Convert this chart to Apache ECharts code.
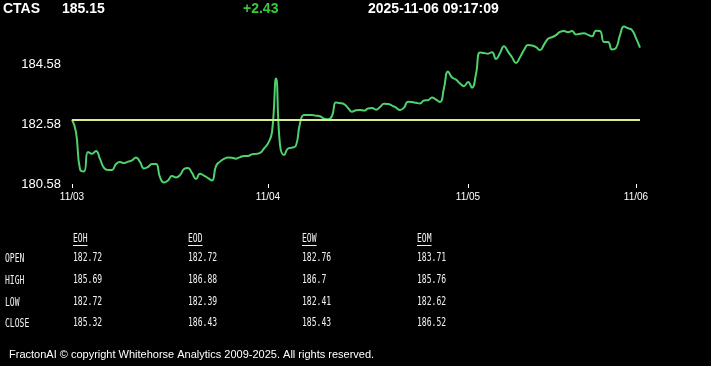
<!DOCTYPE html>
<html>
<head>
<meta charset="utf-8">
<script src="https://cdn.jsdelivr.net/npm/echarts@6/dist/echarts.min.js"></script>
<style>
html,body{margin:0;padding:0;background:#000;}
#chart{width:711px;height:366px;}
</style>
</head>
<body>
<div id="chart"></div>
<script>
// ---- data ----
const symbol = 'CTAS';
const lastPrice = '185.15';
const change = '+2.43';
const timestamp = '2025-11-06 09:17:09';
const prevClose = 182.72;

const dayLabels = ['11/03', '11/04', '11/05', '11/06'];
const dayPointCounts = [49, 50, 42, 2];

const prices = [
  182.74, 182.32, 181.08, 181.00, 181.65, 181.59, 181.69, 181.42, 181.12, 181.05,
  181.05, 181.25, 181.32, 181.28, 181.33, 181.37, 181.47, 181.32, 181.10, 181.15,
  181.25, 181.25, 180.81, 180.63, 180.70, 180.85, 180.80, 180.88, 181.08, 181.12,
  180.95, 180.75, 180.92, 180.86, 180.78, 180.70, 181.18, 181.33, 181.42, 181.47,
  181.46, 181.43, 181.48, 181.52, 181.52, 181.58, 181.59, 181.62, 181.77, 181.94,
  182.32, 184.12, 181.89, 181.55, 181.77, 181.80, 181.87, 182.61, 182.89, 182.89,
  182.89, 182.87, 182.85, 182.77, 182.75, 182.86, 183.31, 183.29, 183.26, 183.13,
  183.00, 183.05, 183.06, 183.04, 183.11, 183.13, 183.07, 183.16, 183.27, 183.26,
  183.21, 183.14, 183.06, 183.14, 183.34, 183.33, 183.30, 183.28, 183.38, 183.39,
  183.48, 183.41, 183.33, 183.80, 184.35, 184.15, 184.08, 183.95, 183.86, 184.00,
  183.81, 184.27, 184.99, 184.97, 184.95, 185.00, 184.77, 184.97, 185.20, 185.02,
  184.83, 184.64, 184.83, 185.07, 185.24, 185.22, 185.17, 185.07, 185.25, 185.45,
  185.50, 185.57, 185.68, 185.71, 185.67, 185.71, 185.59, 185.62, 185.63, 185.58,
  185.53, 185.72, 185.71, 185.34, 185.34, 185.09, 185.14, 185.57, 185.86, 185.80,
  185.74, 185.47, 185.15
];

const yMin = 180.58;
const yMax = 186.58;
const yStep = 2;

const tableCols = ['EOH', 'EOD', 'EOW', 'EOM'];
const tableRows = ['OPEN', 'HIGH', 'LOW', 'CLOSE'];
const eohVals = ['182.72', '185.69', '182.72', '185.32'];
const eodVals = ['182.72', '186.88', '182.39', '186.43'];
const eowVals = ['182.76', '186.7', '182.41', '185.43'];
const eomVals = ['183.71', '185.76', '182.62', '186.52'];
const footer = 'FractonAI \u00A9 copyright Whitehorse Analytics 2009-2025. All rights reserved.';

// ---- build ----
const categories = [];
const firstOfDay = new Set();
dayLabels.forEach((d, k) => {
  firstOfDay.add(categories.length);
  for (let j = 0; j < dayPointCounts[k]; j++) categories.push(d);
});

const sans = '"Liberation Sans", Arial, sans-serif';
const monoSize = 13;
const monoScale = 0.62;
const monoStyle = (t) => ({ text: t, fill: '#f2f2f2', fontSize: monoSize,
  fontFamily: 'DejaVu Sans Mono', verticalAlign: 'middle' });
const hdrStyle = (t, c) => ({ text: t, fill: c, fontSize: 14, fontWeight: 'bold', fontFamily: sans,
  verticalAlign: 'middle' });
const colVals = [eohVals, eodVals, eowVals, eomVals];
const colX = [73, 188, 302, 417];
const rowY = [259, 281, 303, 324];

const graphics = [
  { type: 'text', x: 3, y: 9, style: hdrStyle(symbol, '#fff') },
  { type: 'text', x: 62, y: 9, style: hdrStyle(lastPrice, '#fff') },
  { type: 'text', x: 243, y: 9, style: hdrStyle(change, '#3cc83c') },
  { type: 'text', x: 368, y: 9, style: hdrStyle(timestamp, '#fff') },
  { type: 'text', x: 9, y: 355, style: { text: footer, fill: '#fff', fontSize: 11, fontFamily: sans, verticalAlign: 'middle' } }
];
tableCols.forEach((c, k) => {
  graphics.push({ type: 'text', x: colX[k], y: 239, scaleX: monoScale, style: monoStyle(c) });
  graphics.push({ type: 'line', shape: { x1: colX[k], y1: 245.5, x2: colX[k] + c.length * monoSize * 0.602 * monoScale, y2: 245.5 },
    style: { stroke: '#f2f2f2', lineWidth: 1 } });
  colVals[k].forEach((v, r) => {
    graphics.push({ type: 'text', x: colX[k], y: rowY[r] - 1, scaleX: monoScale, style: monoStyle(v) });
  });
});
tableRows.forEach((t, r) => {
  graphics.push({ type: 'text', x: 5, y: rowY[r], scaleX: monoScale, style: monoStyle(t) });
});

const chart = echarts.init(document.getElementById('chart'), null, { renderer: 'canvas' });
chart.setOption({
  backgroundColor: '#000',
  animation: false,
  grid: { left: 72, right: 71, top: 5, bottom: 182 },
  xAxis: {
    type: 'category',
    data: categories,
    boundaryGap: false,
    axisLine: { show: false },
    axisTick: { show: true, length: 4, lineStyle: { color: '#fff', width: 1 },
      interval: (i) => firstOfDay.has(i) },
    axisLabel: { color: '#fff', fontSize: 10, fontFamily: sans,
      margin: 8, interval: (i) => firstOfDay.has(i) },
    splitLine: { show: false }
  },
  yAxis: {
    type: 'value',
    min: yMin, max: yMax, interval: yStep,
    axisLine: { show: false },
    axisTick: { show: false },
    splitLine: { show: false },
    axisLabel: { color: '#fff', fontSize: 13, fontFamily: sans, margin: 11,
      formatter: (v) => (v > yMax - 0.01 ? '' : v.toFixed(2)) }
  },
  series: [{
    type: 'line',
    data: prices,
    showSymbol: false,
    smooth: 0.5,
    lineStyle: { color: '#4fd26e', width: 2 },
    markLine: {
      silent: true,
      symbol: 'none',
      label: { show: false },
      lineStyle: { color: '#d8ee86', width: 2, type: 'solid' },
      data: [{ yAxis: prevClose }]
    }
  }],
  graphic: graphics
});
</script>
</body>
</html>
